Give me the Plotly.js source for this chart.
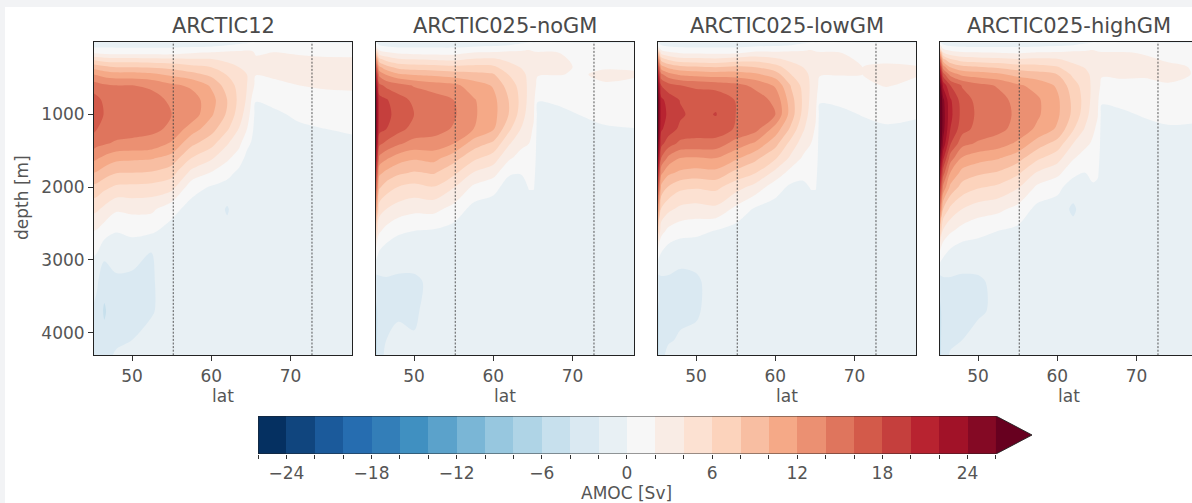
<!DOCTYPE html>
<html><head><meta charset="utf-8">
<script src="https://cdn.plot.ly/plotly-3.0.1.min.js"></script>
<style>
html,body{margin:0;padding:0;background:#f2f3f5;overflow:hidden;width:1192px;height:503px}
#chart{position:absolute;left:5px;top:7px;width:1200px;height:496px;background:#fff}
</style></head><body><div id="chart"></div>
<script>
// ---- data ----
const latitudes = [45.2, 45.6, 46.5, 48, 50, 52.5, 55, 57.5, 60, 62, 63.5, 64.5, 65.1, 65.6, 68, 71, 74, 77.75];
const depths = [0, 60, 150, 250, 350, 450, 600, 800, 1000, 1200, 1400, 1600, 1800, 2000, 2300, 2600, 2900, 3300, 3700, 4100, 4310];
const sectionLats = [55.2, 72.7];
const runNames = ['ARCTIC12', 'ARCTIC025-noGM', 'ARCTIC025-lowGM', 'ARCTIC025-highGM'];
const latTicks = [50, 60, 70];
const depthTicks = [1000, 2000, 3000, 4000];
const levels = [-26,-24,-22,-20,-18,-16,-14,-12,-10,-8,-6,-4,-2,0,2,4,6,8,10,12,14,16,18,20,22,24,26];
const cbTickVals = [-24, -18, -12, -6, 0, 6, 12, 18, 24];
const cbTickText = ['\u221224', '\u221218', '\u221212', '\u22126', '0', '6', '12', '18', '24'];
const cbLabel = 'AMOC [Sv]';

// each inner array = one latitude column, values down the depth grid (Sv)
const amocArctic12 = [
[-0.8,-0.4,1.6,5.8,9.2,12,15,16.8,17.2,16.4,14.8,12.5,10,7.5,4.5,2,0.2,-1.5,-2.2,-2.3,-2],
[-0.8,-0.4,1.5,5.6,9,11.8,14.8,16.5,16.8,16,14.5,12.2,9.8,7.3,4.3,1.8,0,-1.8,-2.5,-2.5,-2.2],
[-0.8,-0.4,1.3,5.2,8.5,11.2,14.3,15.6,15.9,15.3,14.2,11.5,9,6.5,3.5,1,-1.5,-3.2,-4.3,-3.3,-2.5],
[-0.8,-0.4,1.2,5,8,10.8,14,15,15.3,15,13.7,10.6,8.1,5.6,2.3,0.1,-1.3,-2.3,-2.3,-2.3,-1.8],
[-0.8,-0.4,1.2,5,8,10.8,14,15,15.2,14.8,13.5,10.4,8,5.5,2.5,0.5,-1.2,-2.5,-2.5,-2,-1.5],
[-0.8,-0.4,1.2,4.8,7.8,10.4,13.6,14.8,15,14.5,13.2,10.2,7.8,5.3,2.4,0.3,-2.1,-2.2,-2.2,-1.2,-1],
[-0.8,-0.4,1.2,4.6,7.4,9.6,12.4,13.6,14,13.6,11.7,9.2,6.8,4.7,0.7,-0.8,-0.9,-0.9,-0.8,-0.8,-0.8],
[-0.8,-0.3,1.8,4.4,6.6,8.7,11.6,13,13.2,11,8.5,6,3.4,0.8,-0.8,-0.8,-0.8,-0.8,-0.8,-0.8,-0.8],
[-0.8,-0.2,2.1,4.3,6,7.5,9.7,10.8,10.3,8.8,6.7,4.3,1.9,-0.2,-0.8,-0.8,-0.8,-0.8,-0.8,-0.8,-0.8],
[-0.8,0.2,2.4,3.6,4.8,5.9,7,8,7.7,6.3,4.2,2.4,0.7,-0.8,-2.2,-1.5,-0.8,-0.8,-0.8,-0.8,-0.8],
[-0.8,0.8,2.4,3.2,4,4.8,5.4,5.5,5,3.9,2.5,1,-0.5,-0.8,-0.8,-0.8,-0.8,-0.8,-0.8,-0.8,-0.8],
[-0.5,1,2.5,3.2,3.7,4,4,3.7,3,2,0.5,-0.6,-0.8,-0.8,-0.8,-0.8,-0.8,-0.8,-0.8,-0.8,-0.8],
[-0.3,1.2,2.3,2.8,3,3.1,2.9,1.8,1.2,0.5,-0.2,-0.8,-0.8,-0.8,-0.8,-0.8,-0.8,-0.8,-0.8,-0.8,-0.8],
[-0.3,1,1.8,2.3,2.4,2.05,1.5,0.1,-0.6,-0.8,-0.8,-0.8,-0.8,-0.8,-0.8,-0.8,-0.8,-0.8,-0.8,-0.8,-0.8],
[-0.3,1,2.05,2.5,2.6,2.3,1.6,0.6,-0.4,-0.8,-0.8,-0.8,-0.8,-0.8,-0.8,-0.8,-0.8,-0.8,-0.8,-0.8,-0.8],
[-0.3,0.9,1.8,2.4,2.6,2.6,2,1.2,0.4,-0.4,-0.8,-0.8,-0.8,-0.8,-0.8,-0.8,-0.8,-0.8,-0.8,-0.8,-0.8],
[-0.3,0.8,1.6,2.3,2.6,2.6,2.2,1.4,0.8,-0.05,-0.7,-0.8,-0.8,-0.8,-0.8,-0.8,-0.8,-0.8,-0.8,-0.8,-0.8],
[-0.3,0.7,1.5,2.3,2.6,2.6,2.3,1.5,0.9,0.3,-0.5,-0.8,-0.8,-0.8,-0.8,-0.8,-0.8,-0.8,-0.8,-0.8,-0.8]
];
const amocNoGM = [
[-0.5,2,8,14,18,21,24,26,26,26,25,23,20,17,12,6,1,-3,-4.5,-4.5,-4.5],
[-0.8,0.3,3,7,10.5,13.5,16.5,18.8,19.2,18.7,16.5,13.5,10.5,8.3,5,2.3,-0.2,-2.5,-3,-3,-2.8],
[-0.8,-0.2,2.2,5.5,8.8,11.8,15.5,18.2,18.6,18,15.5,12.3,9.5,7,4,1.3,-1,-2.2,-2.5,-2,-1.5],
[-0.8,-0.4,1.6,4.5,7.4,10.3,14.8,16.8,17.2,16.7,14.3,11,8.4,5.9,3.1,0.3,-1.2,-2.3,-2.3,-1.5,-1.2],
[-0.8,-0.4,1.4,4.2,7,9.8,13.8,15.6,16,15.3,13.3,10.3,7.8,5.4,2.5,0,-1.2,-2.3,-2.4,-1.8,-1],
[-0.8,-0.4,1.3,4,6.8,9.5,13,15,15.3,14.8,13.2,10.7,8.2,5.9,2.6,-0.2,-0.9,-1.6,-0.9,-0.8,-0.8],
[-0.8,-0.4,1.3,3.8,6.5,9,12.5,14,14.3,13.8,12,8.8,6.5,4.1,1.3,-0.8,-0.8,-0.8,-0.8,-0.8,-0.8],
[-0.8,-0.2,2,4.4,6.6,8.6,11,12.2,12.3,12,9,6.5,3.9,1.6,-0.7,-0.8,-0.8,-0.8,-0.8,-0.8,-0.8],
[-0.8,0,2.2,4.5,6.4,8.2,9.8,10.6,10.7,10.2,7.6,5,2.8,0.5,-0.8,-0.8,-0.8,-0.8,-0.8,-0.8,-0.8],
[-0.8,0.2,2.5,3.6,4.9,5.9,7,7.9,7.9,6.4,4.2,2.3,0.2,-0.7,-0.8,-0.8,-0.8,-0.8,-0.8,-0.8,-0.8],
[-0.6,0.8,2.4,3.2,3.9,4.7,5.3,5.5,5.1,3.9,2.5,1.2,0.1,-0.7,-0.8,-0.8,-0.8,-0.8,-0.8,-0.8,-0.8],
[-0.3,1.2,2.5,3,3.3,3.5,3.5,3.4,3,2.5,2,1.2,0.5,0.1,-0.8,-0.8,-0.8,-0.8,-0.8,-0.8,-0.8],
[-0.3,1,2.2,2.6,2.8,2.8,2.7,2.5,2.2,1.8,1.2,0.8,0.4,0.1,-0.8,-0.8,-0.8,-0.8,-0.8,-0.8,-0.8],
[-0.3,1.2,2.1,2.3,2.3,2.1,1.5,0.1,-0.6,-0.8,-0.8,-0.8,-0.8,-0.8,-0.8,-0.8,-0.8,-0.8,-0.8,-0.8,-0.8],
[-0.3,1,2.05,2.2,2.2,2.05,1.4,0.3,-0.5,-0.8,-0.8,-0.8,-0.8,-0.8,-0.8,-0.8,-0.8,-0.8,-0.8,-0.8,-0.8],
[-0.3,0.8,1.6,1.8,1.9,1.9,1.6,0.9,0.05,-0.6,-0.8,-0.8,-0.8,-0.8,-0.8,-0.8,-0.8,-0.8,-0.8,-0.8,-0.8],
[-0.3,0.7,1.3,1.6,1.9,2.2,1.9,1.2,0.5,-0.2,-0.7,-0.8,-0.8,-0.8,-0.8,-0.8,-0.8,-0.8,-0.8,-0.8,-0.8],
[-0.3,0.7,1.3,1.6,1.9,2.1,1.8,1.3,0.6,-0.05,-0.7,-0.8,-0.8,-0.8,-0.8,-0.8,-0.8,-0.8,-0.8,-0.8,-0.8]
];
const amocLowGM = [
[-0.5,2,9,15,19,22,25,27,27,27,26,24,21,18,13,7,1,-3,-4.5,-4.5,-4.5],
[-0.8,0.3,3.2,7.5,11,14.5,18,20.5,21,20.3,18.6,16,12.5,9.5,5.8,2.7,0,-2.5,-2.8,-2.8,-2.5],
[-0.8,-0.2,2.3,6,9.5,12.8,16.8,19.2,19.6,19,17,13.5,10.5,7.8,4.5,1.5,-1,-2.3,-2.5,-2.2,-1.5],
[-0.8,-0.4,1.7,5,8.6,11.7,16,17.9,18.3,17.6,15.5,12,9.6,6.5,3.5,0.8,-1.5,-2.4,-2.4,-1.8,-1],
[-0.8,-0.4,1.6,4.8,8.3,11.3,15.6,17.2,17.4,17,15.4,11.8,9.2,6.2,3.2,0.5,-1.3,-2.3,-2.3,-1.5,-1],
[-0.8,-0.4,1.5,4.6,8,11,15.2,17.5,18.1,17.2,15.2,12,9.4,6.5,3.5,-0.1,-0.9,-1.2,-1,-0.8,-0.8],
[-0.8,-0.4,1.5,5.2,8.4,11,14.6,15.9,16,15.8,13.2,10.4,7.4,4.8,1.5,-0.8,-0.8,-0.8,-0.8,-0.8,-0.8],
[-0.8,-0.2,2.4,5.4,8,10.4,13.5,15,15.2,14.7,11.6,8.5,6.1,3.2,-0.3,-0.8,-0.8,-0.8,-0.8,-0.8,-0.8],
[-0.8,0,2.3,4.6,6.8,9,11.7,13.5,14,11.2,8.7,6.3,3.4,0.8,-0.8,-0.8,-0.8,-0.8,-0.8,-0.8,-0.8],
[-0.8,0.2,2.5,3.6,5,6,7.8,8.8,9,7.5,5.2,3.5,1.2,-0.4,-0.8,-0.8,-0.8,-0.8,-0.8,-0.8,-0.8],
[-0.6,0.8,2.4,3.2,4,4.8,5.4,5.7,5.4,4.3,3,1.7,0.5,-0.4,-0.8,-0.8,-0.8,-0.8,-0.8,-0.8,-0.8],
[-0.3,1.2,2.5,3,3.3,3.6,3.7,3.5,3.1,2.6,2,1.3,0.6,0.1,-0.8,-0.8,-0.8,-0.8,-0.8,-0.8,-0.8],
[-0.3,1,2.2,2.6,2.8,2.9,2.8,2.6,2.2,1.8,1.2,0.8,0.4,0.1,-0.8,-0.8,-0.8,-0.8,-0.8,-0.8,-0.8],
[-0.3,1.2,2.1,2.3,2.3,2.1,1.5,0.2,-0.6,-0.8,-0.8,-0.8,-0.8,-0.8,-0.8,-0.8,-0.8,-0.8,-0.8,-0.8,-0.8],
[-0.3,1,2.05,2.2,2.2,2.05,1.5,0.4,-0.5,-0.8,-0.8,-0.8,-0.8,-0.8,-0.8,-0.8,-0.8,-0.8,-0.8,-0.8,-0.8],
[-0.3,0.8,1.6,1.9,2,2,1.7,1,0.1,-0.6,-0.8,-0.8,-0.8,-0.8,-0.8,-0.8,-0.8,-0.8,-0.8,-0.8,-0.8],
[-0.3,0.7,1.4,1.8,2.2,2.4,2.1,1.2,0.4,-0.2,-0.7,-0.8,-0.8,-0.8,-0.8,-0.8,-0.8,-0.8,-0.8,-0.8,-0.8],
[-0.3,0.7,1.4,1.8,2.05,2.1,1.7,1,0.2,-0.4,-0.8,-0.8,-0.8,-0.8,-0.8,-0.8,-0.8,-0.8,-0.8,-0.8,-0.8]
];
const amocHighGM = [
[-0.5,3,11,17,21,24,27,29,29,29,28,26,23,20,15,8,1.5,-3,-4.5,-4.5,-4.5],
[-0.8,0.5,4,9,13,17,21.5,24.5,25,24.8,23.5,20.5,17,13.5,8,3.5,0.5,-2.5,-3,-3,-2.8],
[-0.8,0,2.8,6.5,10,13.3,18,20.3,20.6,20,18.2,15,12,9.5,5.5,2.3,-0.5,-2.3,-2.6,-2.4,-1.8],
[-0.8,-0.3,2.2,5.3,8.6,11.5,15.8,17,17.3,16.8,14.7,11.8,9.3,7.2,4,1.2,-1.2,-2.3,-2.4,-2,-1.2],
[-0.8,-0.3,2.1,5,8.2,11,14.6,15.4,15.6,15.3,13.7,10.8,8.4,6.2,3,0.5,-1,-2.3,-2.3,-1.3,-1],
[-0.8,-0.3,1.9,4.7,7.7,10.4,13.8,14.7,14.9,14.6,13,10.2,7.8,5.6,2.5,0,-0.9,-1.5,-1.6,-1,-0.8],
[-0.8,-0.3,1.7,4.3,7,9.4,12.3,13.4,13.6,13.3,11.6,8.8,6.4,4.2,1.4,-0.5,-0.8,-0.8,-0.8,-0.8,-0.8],
[-0.8,-0.2,2.1,4.5,6.8,8.8,11.3,12.3,12.3,11.6,9,6.4,3.8,1.6,-0.6,-0.8,-0.8,-0.8,-0.8,-0.8,-0.8],
[-0.8,0,2.2,4.3,6.2,8,9.7,10.4,10.4,9.7,7.2,4.8,2.6,0.5,-0.8,-0.8,-0.8,-0.8,-0.8,-0.8,-0.8],
[-0.8,0.2,2.5,3.5,4.6,5.6,6.8,7.5,7.5,6.2,4,2.2,0.5,-0.9,-2.4,-1.2,-0.8,-0.8,-0.8,-0.8,-0.8],
[-0.6,0.8,2.4,3.2,3.9,4.6,5.1,5.3,4.9,3.8,2.5,1.1,0,-0.7,-0.8,-0.8,-0.8,-0.8,-0.8,-0.8,-0.8],
[-0.3,1.2,2.5,3,3.3,3.5,3.5,3.3,2.9,2.3,1.7,1,0.4,-0.2,-0.8,-0.8,-0.8,-0.8,-0.8,-0.8,-0.8],
[-0.3,1,2.2,2.6,2.8,2.8,2.7,2.4,2.1,1.6,1.1,0.6,0.2,-0.3,-0.8,-0.8,-0.8,-0.8,-0.8,-0.8,-0.8],
[-0.3,1.2,2.1,2.3,2.3,2.15,1.6,0.3,-0.6,-0.8,-0.8,-0.8,-0.8,-0.8,-0.8,-0.8,-0.8,-0.8,-0.8,-0.8,-0.8],
[-0.3,1,2.1,2.3,2.3,2.2,1.7,0.6,-0.4,-0.8,-0.8,-0.8,-0.8,-0.8,-0.8,-0.8,-0.8,-0.8,-0.8,-0.8,-0.8],
[-0.3,0.9,1.9,2.2,2.2,2.1,1.8,1.1,0.2,-0.6,-0.8,-0.8,-0.8,-0.8,-0.8,-0.8,-0.8,-0.8,-0.8,-0.8,-0.8],
[-0.3,0.8,1.6,1.9,2.2,2.3,1.9,1.2,0.5,-0.2,-0.7,-0.8,-0.8,-0.8,-0.8,-0.8,-0.8,-0.8,-0.8,-0.8,-0.8],
[-0.3,0.7,1.4,1.7,1.9,1.9,1.6,1.1,0.4,-0.3,-0.8,-0.8,-0.8,-0.8,-0.8,-0.8,-0.8,-0.8,-0.8,-0.8,-0.8]
];
const panelData = [amocArctic12, amocNoGM, amocLowGM, amocHighGM];

// ---- colours: matplotlib RdBu_r sampled into discrete bands (+ "max" extension) ----
const rdbuR = ['#053061','#2166ac','#4393c3','#92c5de','#d1e5f0','#f7f7f7','#fddbc7','#f4a582','#d6604d','#b2182b','#67001f'];
function hex2rgb(h){return [parseInt(h.slice(1,3),16),parseInt(h.slice(3,5),16),parseInt(h.slice(5,7),16)];}
function cmap(t){
  const n = rdbuR.length - 1, p = Math.max(0, Math.min(1, t)) * n;
  const i = Math.min(Math.floor(p), n - 1), f = p - i;
  const a = hex2rgb(rdbuR[i]), b = hex2rgb(rdbuR[i + 1]);
  return 'rgb(' + a.map((v, k) => Math.round(v + (b[k] - v) * f)).join(',') + ')';
}
const nBands = levels.length - 1;
const bandColors = [];
for (let k = 0; k <= nBands; k++) bandColors.push(cmap(k / nBands));
const step = levels[1] - levels[0];
const contourScale = [[0, bandColors[0]]];
for (let j = 1; j <= nBands + 1; j++) contourScale.push([j / (nBands + 1), bandColors[j - 1]]);
const lo = levels[0], hi = levels[levels.length - 1];
const heatScale = [[0, bandColors[0]]];
const mids = [];
for (let k = 0; k < nBands; k++) {
  const m = (levels[k] + levels[k + 1]) / 2; mids.push(m);
  heatScale.push([(m - lo) / (hi - lo), bandColors[k]]);
}
heatScale.push([1, bandColors[nBands - 1]]);

// ---- layout geometry ----
const W = 1200, H = 496;
const panelPx = [[89, 347], [371, 629], [653, 911], [935, 1193]];
const yDom = [1 - 348.3 / H, 1 - 34.7 / H];
const txt = '#555';
const baseFont = {family: 'DejaVu Sans, sans-serif', size: 17, color: txt};
const arrowLen = 2.54;

const traces = [];
const layout = {
  width: W, height: H, margin: {l: 0, r: 0, t: 0, b: 0},
  paper_bgcolor: '#ffffff', plot_bgcolor: '#ffffff',
  font: baseFont, showlegend: false, shapes: [], annotations: []
};

panelData.forEach((z, i) => {
  const s = i ? String(i + 1) : '';
  traces.push({
    type: 'contour', x: latitudes, y: depths, z: z, transpose: true,
    xaxis: 'x' + s, yaxis: 'y' + s,
    autocontour: false,
    contours: {start: lo, end: hi, size: step, coloring: 'fill', showlines: false},
    line: {width: 0, smoothing: 0.9},
    colorscale: contourScale, showscale: false, hoverinfo: 'skip'
  });
  layout['xaxis' + s] = {
    domain: [panelPx[i][0] / W, panelPx[i][1] / W], anchor: 'y' + s,
    range: [latitudes[0], latitudes[latitudes.length - 1]],
    tickmode: 'array', tickvals: latTicks, ticks: 'outside', ticklen: 5, tickwidth: 1, tickcolor: '#333',
    showline: true, mirror: true, linecolor: '#222', linewidth: 1,
    showgrid: false, zeroline: false, tickfont: baseFont
  };
  layout['yaxis' + s] = {
    domain: yDom, anchor: 'x' + s,
    range: [depths[depths.length - 1], depths[0]],
    tickmode: 'array', tickvals: depthTicks,
    ticks: i === 0 ? 'outside' : '', ticklen: 5, tickwidth: 1, tickcolor: '#333',
    showticklabels: i === 0,
    showline: true, mirror: true, linecolor: '#222', linewidth: 1,
    showgrid: false, zeroline: false, tickfont: baseFont
  };
  sectionLats.forEach(lat => layout.shapes.push({
    type: 'line', xref: 'x' + s, yref: 'y' + s + ' domain', x0: lat, x1: lat, y0: 0, y1: 1,
    line: {color: '#444', width: 0.9, dash: '2px,1.6px'}
  }));
  layout.annotations.push({
    text: runNames[i], xref: 'x' + s + ' domain', x: 0.5, yref: 'paper', y: 1 - 19 / H,
    xanchor: 'center', yanchor: 'middle', showarrow: false,
    font: {family: baseFont.family, size: 21, color: '#4a4a4a'}
  });
  layout.annotations.push({
    text: 'lat', xref: 'x' + s + ' domain', x: 0.5, yref: 'paper', y: 1 - 389 / H,
    xanchor: 'center', yanchor: 'middle', showarrow: false, font: baseFont
  });
});
layout.annotations.push({
  text: 'depth [m]', xref: 'paper', x: 17 / W, yref: 'paper', y: 1 - 191 / H,
  textangle: -90, xanchor: 'center', yanchor: 'middle', showarrow: false, font: baseFont
});

// ---- colour bar ----
traces.push({
  type: 'heatmap', x: levels, y: [0, 1], z: [mids], zmin: lo, zmax: hi,
  colorscale: heatScale, showscale: false, xaxis: 'x5', yaxis: 'y5', hoverinfo: 'skip'
});
layout.xaxis5 = {
  domain: [253 / W, 1027 / W], anchor: 'y5', range: [lo, hi + arrowLen],
  tickmode: 'array', tickvals: levels,
  ticktext: levels.map(v => { const k = cbTickVals.indexOf(v); return k >= 0 ? cbTickText[k] : ''; }),
  ticks: 'outside', ticklen: 4, tickwidth: 1, tickcolor: '#333',
  showline: false, showgrid: false, zeroline: false, tickfont: baseFont
};
layout.yaxis5 = {domain: [1 - 447 / H, 1 - 409 / H], anchor: 'x5', range: [0, 1], visible: false, fixedrange: true};
layout.shapes.push({
  type: 'path', xref: 'x5', yref: 'y5',
  path: `M ${hi} 0 L ${hi + arrowLen} 0.5 L ${hi} 1 Z`,
  fillcolor: bandColors[nBands], line: {width: 0}
});
layout.shapes.push({
  type: 'path', xref: 'x5', yref: 'y5',
  path: `M ${lo} 0 L ${hi} 0 L ${hi + arrowLen} 0.5 L ${hi} 1 L ${lo} 1 Z`,
  line: {color: '#222', width: 0.9}
});
layout.annotations.push({
  text: cbLabel, xref: 'x5', x: 0, yref: 'paper', y: 1 - 486 / H,
  xanchor: 'center', yanchor: 'middle', showarrow: false, font: baseFont
});

Plotly.newPlot('chart', traces, layout, {staticPlot: true, displayModeBar: false});
</script></body></html>
